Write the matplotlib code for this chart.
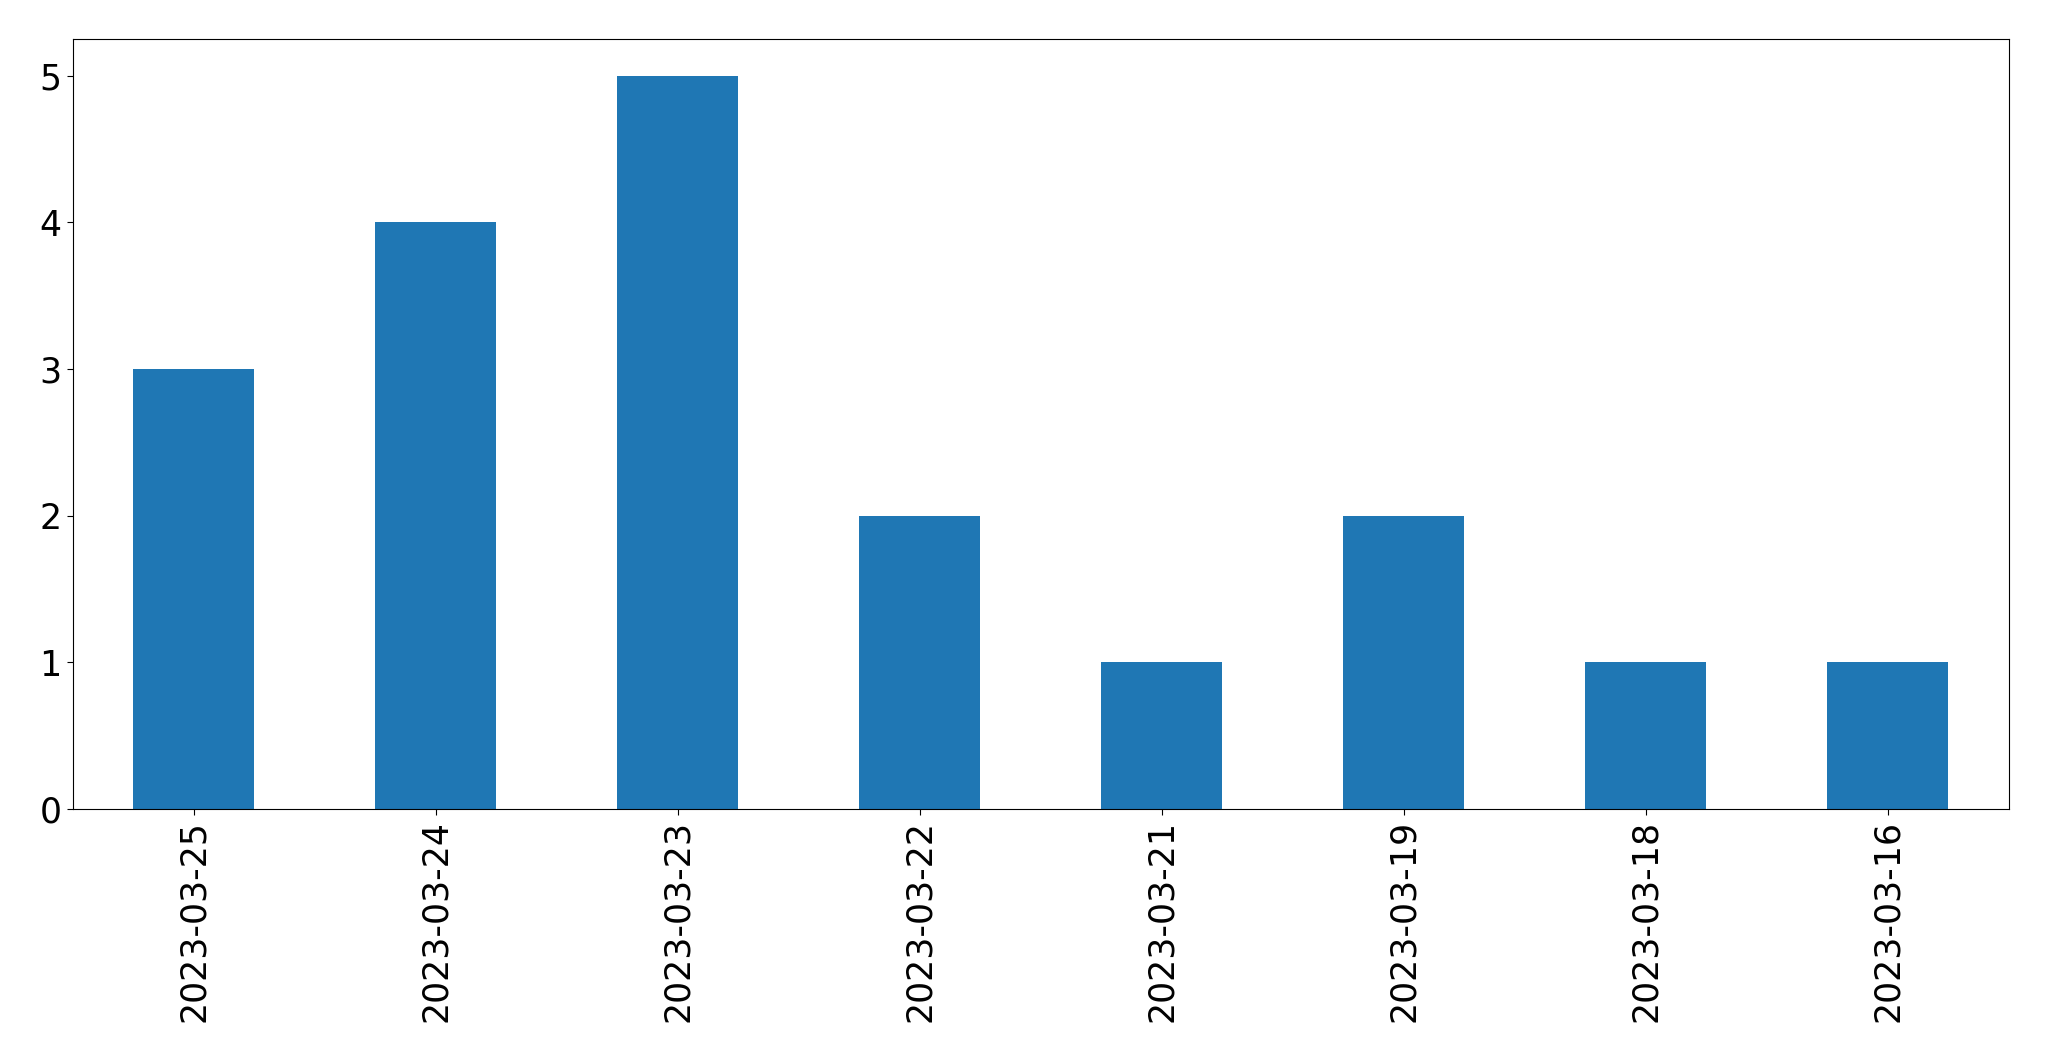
import numpy as np
import matplotlib
matplotlib.use('Agg')
import matplotlib.pyplot as plt

dates = ['2023-03-25', '2023-03-24', '2023-03-23', '2023-03-22',
         '2023-03-21', '2023-03-19', '2023-03-18', '2023-03-16']
counts = [3, 4, 5, 2, 1, 2, 1, 1]

fig = plt.figure(figsize=(20.49, 10.61), dpi=100)
ax = fig.add_axes([72.5/2049, 1-809/1061, (2009-72.5)/2049, (809-39)/1061])
x = np.arange(len(dates))
ax.bar(x, counts, width=0.5, color='#1f77b4')
ax.set_xlim(-0.5, len(dates) - 0.5)
ax.set_ylim(0, 5.25)
ax.set_xticks(x)
ax.set_xticklabels(dates, rotation=90)
ax.tick_params(labelsize=25, length=4.5)
fig.savefig('out.png', dpi=100)
